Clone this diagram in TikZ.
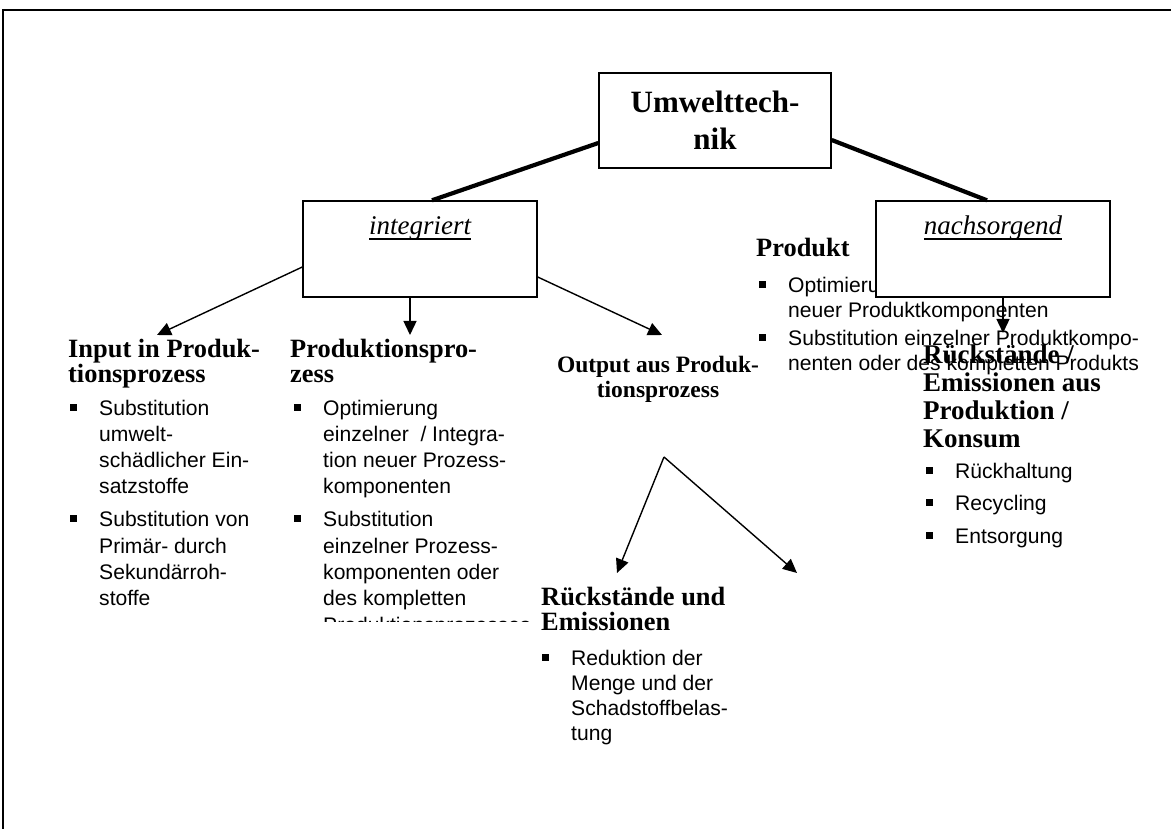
\documentclass[tikz,border=0pt]{standalone}
\usepackage{fontspec}
\setmainfont{Liberation Serif}
\newfontfamily\arialf{Liberation Sans}
\usetikzlibrary{arrows.meta}
\newcommand{\hdfont}{\fontsize{26.4}{25}\selectfont\bfseries}
\newcommand{\blfont}{\arialf\fontsize{21.1}{26.3}\selectfont}
\newcommand{\itfont}{\fontsize{27}{30}\selectfont\itshape}
\newcommand{\bsq}{\makebox[29pt][l]{\rule[4.5pt]{7pt}{7pt}}}
\newcommand{\bitem}{\par\noindent\hangindent=29pt\hangafter=1\bsq}
\newcommand{\myul}[1]{\setbox0\hbox{#1}\rlap{\rule[-4.8pt]{\wd0}{1.3pt}}\box0}
\newcommand{\blk}[2]{\parbox[t]{#1}{\raggedright\parindent=0pt #2}}
\begin{document}
\begin{tikzpicture}[x=1pt,y=-1pt,
  box/.style={draw, line width=1.4pt, fill=white, inner sep=0pt},
  thickln/.style={line width=4.2pt},
  arr/.style={line width=1.4pt, -{Triangle[length=14pt,width=13pt]}},
  txt/.style={anchor=base west, inner sep=0pt}]
\useasboundingbox (0,0) rectangle (1171,829);
\fill[white] (0,0) rectangle (1171,829);
\draw[line width=2pt] (3,829) -- (3,10) -- (1171,10);

% Produkt column (partly covered by the nachsorgend box)
\node[txt] (prodH) at (756,257) {\blk{300pt}{\hdfont Produkt}};
\node[txt] (prodB) at (759,293) {\blk{420pt}{\arialf\fontsize{21.1}{25}\selectfont\parskip=3pt
\bitem Optimierung einzelner / Integration\newline neuer Produktkomponenten
\bitem Substitution einzelner Produktkompo-\newline nenten oder des kompletten Produkts}};

% boxes
\node[box, minimum width=232pt, minimum height=95pt, align=center,
      font=\fontsize{31}{37}\selectfont\bfseries] (umw) at (715,120.5) {Umwelttech-\\nik};
\node[box, minimum width=234pt, minimum height=96pt] (integ) at (420,249) {};
\node[box, minimum width=234pt, minimum height=96pt] (nach) at (993,249) {};
\node[anchor=base, inner sep=0pt, font=\itfont] (integT) at (420,235) {\myul{integriert}};
\node[anchor=base, inner sep=0pt, font=\itfont] (nachT) at (993,235) {\myul{nachsorgend}};

% thick connectors
\draw[thickln] ([yshift=-22.5pt]umw.west) -- ([xshift=12pt]integ.north);
\draw[thickln] ([yshift=-19.5pt]umw.east) -- ([xshift=-6pt]nach.north);

% arrow end points
\coordinate (tipIn) at (157,335);
\coordinate (tipPr) at (410,335);
\coordinate (tipOut) at (662,335);
\coordinate (tipNach) at (1003,333);
\coordinate (apex) at (664,457);
\coordinate (tipL) at (617,573);
\coordinate (tipR) at (797,573);

\draw[arr] ([yshift=-18pt]integ.west) -- (tipIn);
\draw[arr] ([xshift=-10pt]integ.south) -- (tipPr);
\draw[arr] ([yshift=-28pt]integ.east) -- (tipOut);
\draw[arr] ([xshift=10pt]nach.south) -- (tipNach);
\draw[arr] (apex) -- (tipL);
\draw[arr] (apex) -- (tipR);

% column 1
\node[txt] (inH) at (68,357) {\blk{300pt}{\hdfont Input in Produk-\newline tionsprozess}};
\node[txt] (inB) at (70,415) {\blk{300pt}{\blfont\parskip=6.7pt
\bitem Substitution\newline umwelt-\newline schädlicher Ein-\newline satzstoffe
\bitem Substitution von\newline Primär- durch\newline Sekundärroh-\newline stoffe}};

% column 2
\node[txt] (prH) at (290,357) {\blk{300pt}{\hdfont Produktionspro-\newline zess}};
\begin{scope}
\clip (280,390) rectangle (560,621);
\node[txt] (prB) at (294,415) {\blk{300pt}{\blfont\parskip=6.7pt
\bitem Optimierung\newline einzelner~ / Integra-\newline tion neuer Prozess-\newline komponenten
\bitem Substitution\newline einzelner Prozess-\newline komponenten oder\newline des kompletten\newline Produktionsprozesses}};
\end{scope}

% column 3
\node[anchor=base, inner sep=0pt] (outH) at (658,372) {\parbox[t]{300pt}{\centering\fontsize{23.5}{25}\selectfont\bfseries Output aus Produk-\\tionsprozess}};
\node[txt] (rueH) at (541,605) {\blk{300pt}{\hdfont Rückstände und\newline Emissionen}};
\node[txt] (rueB) at (542,665) {\blk{300pt}{\arialf\fontsize{21.1}{25}\selectfont
\bitem Reduktion der\newline Menge und der\newline Schadstoffbelas-\newline tung}};

% right column
\node[txt] (nsH) at (923,363) {\blk{300pt}{\fontsize{27}{28}\selectfont\bfseries Rückstände /\newline Emissionen aus\newline Produktion /\newline Konsum}};
\node[txt] (nsB) at (926,478) {\blk{300pt}{\arialf\fontsize{21.1}{32.5}\selectfont
\bitem Rückhaltung
\bitem Recycling
\bitem Entsorgung}};
\end{tikzpicture}
\end{document}
